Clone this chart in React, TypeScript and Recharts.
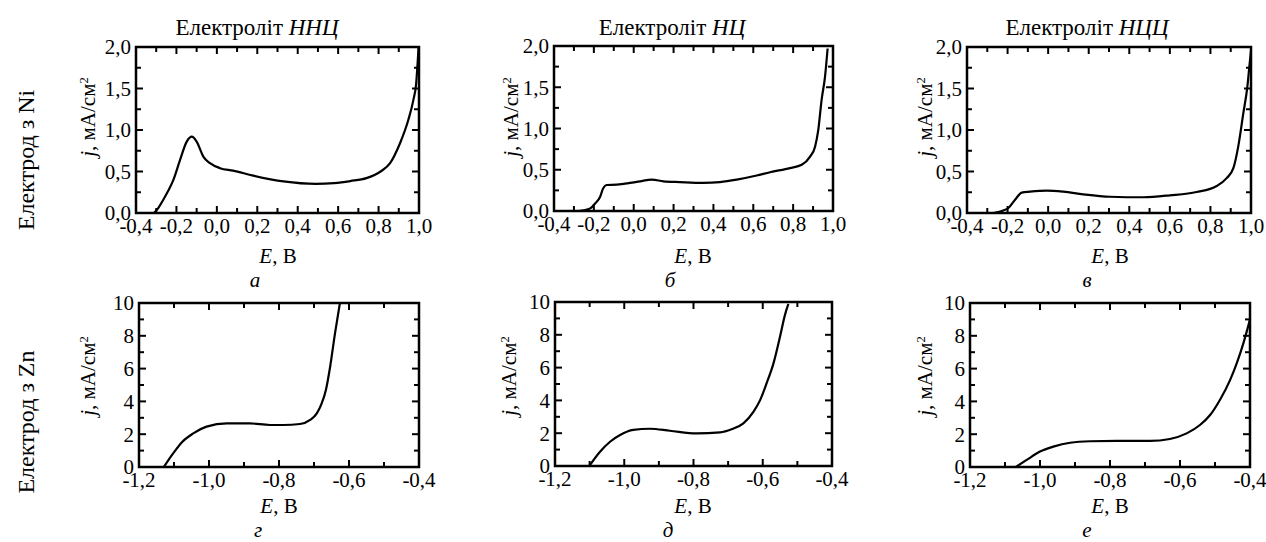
import React from 'react';
import { LineChart, Line, XAxis, YAxis, ReferenceArea } from 'recharts';

const FONT = '"Liberation Serif", "Times New Roman", serif';

// Panel а — Ni electrode, electrolyte ННЦ
const niNNC_E = [-0.311, -0.29, -0.265, -0.24, -0.215, -0.182, -0.149, -0.124, -0.1, -0.067, -0.034, 0.016, 0.08, 0.18, 0.33, 0.49, 0.58, 0.66, 0.74, 0.81, 0.857, 0.906, 0.947, 0.972, 0.986, 0.994, 0.998];
const niNNC_j = [0, 0.06, 0.16, 0.27, 0.4, 0.64, 0.86, 0.92, 0.86, 0.68, 0.6, 0.54, 0.51, 0.45, 0.38, 0.35, 0.36, 0.385, 0.42, 0.5, 0.6, 0.84, 1.12, 1.36, 1.56, 1.84, 2.0];

// Panel б — Ni electrode, electrolyte НЦ
const niNC_E = [-0.278, -0.219, -0.194, -0.169, -0.153, -0.136, -0.085, -0.019, 0.032, 0.09, 0.149, 0.232, 0.349, 0.433, 0.517, 0.617, 0.684, 0.784, 0.843, 0.885, 0.91, 0.926, 0.943, 0.96, 0.973];
const niNC_j = [0, 0.03, 0.09, 0.17, 0.275, 0.315, 0.32, 0.34, 0.36, 0.38, 0.36, 0.35, 0.34, 0.35, 0.38, 0.43, 0.47, 0.52, 0.56, 0.66, 0.78, 0.98, 1.35, 1.63, 1.97];

// Panel в — Ni electrode, electrolyte НЦЦ
const niNCC_E = [-0.27, -0.221, -0.196, -0.163, -0.13, -0.089, -0.007, 0.075, 0.173, 0.305, 0.469, 0.6, 0.732, 0.831, 0.88, 0.913, 0.937, 0.962, 0.982, 0.995, 1.0];
const niNCC_j = [0, 0.03, 0.06, 0.16, 0.245, 0.257, 0.27, 0.257, 0.225, 0.196, 0.19, 0.213, 0.253, 0.325, 0.42, 0.54, 0.8, 1.2, 1.52, 1.84, 1.95];

// Panel г — Zn electrode, electrolyte ННЦ
const znNNC_E = [-1.129, -1.102, -1.078, -1.045, -1.007, -0.949, -0.883, -0.826, -0.788, -0.74, -0.711, -0.692, -0.678, -0.666, -0.654, -0.64, -0.626];
const znNNC_j = [0, 0.84, 1.5, 2.05, 2.46, 2.66, 2.66, 2.56, 2.56, 2.62, 2.87, 3.27, 3.88, 4.7, 6.1, 8.15, 10.0];

// Panel д — Zn electrode, electrolyte НЦ
const znNC_E = [-1.101, -1.07, -1.041, -1.012, -0.974, -0.926, -0.868, -0.791, -0.723, -0.69, -0.656, -0.627, -0.608, -0.589, -0.569, -0.55, -0.536, -0.526];
const znNC_j = [0, 0.87, 1.48, 1.89, 2.2, 2.27, 2.15, 1.99, 2.05, 2.24, 2.6, 3.3, 4.0, 5.04, 6.26, 7.9, 9.2, 9.88];

// Panel е — Zn electrode, electrolyte НЦЦ
const znNCC_E = [-1.069, -1.038, -1.0, -0.962, -0.914, -0.857, -0.781, -0.686, -0.629, -0.581, -0.543, -0.514, -0.486, -0.457, -0.438, -0.419, -0.403, -0.4];
const znNCC_j = [0, 0.43, 0.94, 1.24, 1.48, 1.57, 1.59, 1.59, 1.71, 2.05, 2.56, 3.17, 4.09, 5.3, 6.32, 7.54, 8.76, 9.0];

// Ticks
const niXMajor = [-0.4, -0.2, 0, 0.2, 0.4, 0.6, 0.8, 1.0];
const niXMinor = [-0.3, -0.1, 0.1, 0.3, 0.5, 0.7, 0.9];
const niYMajor = [0, 0.5, 1.0, 1.5, 2.0];
const niYMinor = [0.25, 0.75, 1.25, 1.75];
const znXMajor = [-1.2, -1.0, -0.8, -0.6, -0.4];
const znXMinor = [-1.1, -0.9, -0.7, -0.5];
const znYMajor = [0, 2, 4, 6, 8, 10];
const znYMinor = [1, 3, 5, 7, 9];

const titles = ['Електроліт ', 'Електроліт ', 'Електроліт '];
const electrolytes = ['ННЦ', 'НЦ', 'НЦЦ'];
const rowLabels = ['Електрод з Ni', 'Електрод з Zn'];
const panelLetters = ['а', 'б', 'в', 'г', 'д', 'е'];

const fmt1 = (v: number) => v.toFixed(1).replace('.', ',');
const fmt0 = (v: number) => String(v);

const TICK_FS = 21;
const MAJ = 7;
const MIN = 5;

function XTick(props: any) {
  const { x, y, payload, h, majors, fmt } = props;
  const v = payload.value;
  const major = majors.includes(v);
  const len = major ? MAJ : MIN;
  return (
    <g>
      <line x1={x} x2={x} y1={y} y2={y - len} stroke="#000" strokeWidth={2} />
      <line x1={x} x2={x} y1={y - h} y2={y - h + len} stroke="#000" strokeWidth={2} />
      {major && (
        <text x={x} y={y + 20} textAnchor="middle" fontFamily={FONT} fontSize={TICK_FS} fill="#000">
          {fmt(v)}
        </text>
      )}
    </g>
  );
}

function YTick(props: any) {
  const { x, y, payload, w, majors, fmt } = props;
  const v = payload.value;
  const major = majors.includes(v);
  const len = major ? MAJ : MIN;
  return (
    <g>
      <line x1={x} x2={x + len} y1={y} y2={y} stroke="#000" strokeWidth={2} />
      <line x1={x + w} x2={x + w - len} y1={y} y2={y} stroke="#000" strokeWidth={2} />
      {major && (
        <text x={x - 5} y={y} dy="0.35em" textAnchor="end" fontFamily={FONT} fontSize={TICK_FS} fill="#000">
          {fmt(v)}
        </text>
      )}
    </g>
  );
}

function Panel(props: any) {
  const { L, T, R, B, E, J, xMajor, xMinor, yMajor, yMinor, fmtX, fmtY } = props;
  const w = R - L;
  const h = B - T;
  const ml = 60, mt = 15, mr = 30, mb = 35;
  const data = E.map((e: number, i: number) => ({ E: e, j: J[i] }));
  const xTicks = [...xMajor, ...xMinor].sort((a, b) => a - b);
  const yTicks = [...yMajor, ...yMinor].sort((a, b) => a - b);
  const xd = [xMajor[0], xMajor[xMajor.length - 1]];
  const yd = [yMajor[0], yMajor[yMajor.length - 1]];
  return (
    <div style={{ position: 'absolute', left: L - ml, top: T - mt }}>
      <LineChart width={w + ml + mr} height={h + mt + mb} data={data} margin={{ top: mt, right: mr, left: 0, bottom: 0 }}>
        <XAxis
          dataKey="E"
          type="number"
          domain={xd}
          ticks={xTicks}
          interval={0}
          height={mb}
          tickSize={0}
          tickMargin={0}
          axisLine={false}
          tickLine={false}
          allowDataOverflow
          tick={(p: any) => <XTick {...p} h={h} majors={xMajor} fmt={fmtX} />}
        />
        <YAxis
          type="number"
          domain={yd}
          ticks={yTicks}
          interval={0}
          width={ml}
          tickSize={0}
          tickMargin={0}
          axisLine={false}
          tickLine={false}
          allowDataOverflow
          tick={(p: any) => <YTick {...p} w={w} majors={yMajor} fmt={fmtY} />}
        />
        <ReferenceArea x1={xd[0]} x2={xd[1]} y1={yd[0]} y2={yd[1]} fill="none" fillOpacity={0} stroke="#000" strokeWidth={2.5} ifOverflow="visible" />
        <Line dataKey="j" type="monotone" stroke="#000" strokeWidth={2.2} dot={false} isAnimationActive={false} />
      </LineChart>
    </div>
  );
}

function Txt(props: any) {
  const { x, y, size = 21, rot = false, italic = false, children } = props;
  return (
    <div
      style={{
        position: 'absolute',
        left: x,
        top: y,
        transform: `translate(-50%, -50%)${rot ? ' rotate(-90deg)' : ''}`,
        fontFamily: FONT,
        fontSize: size,
        fontStyle: italic ? 'italic' : 'normal',
        whiteSpace: 'nowrap',
        lineHeight: 1,
        color: '#000',
      }}
    >
      {children}
    </div>
  );
}

const YLab = () => (
  <span>
    <i>j</i>, мА/см<sup style={{ fontSize: '0.6em', verticalAlign: '0.6em' }}>2</sup>
  </span>
);
const XLab = () => (
  <span>
    <i>E</i>, В
  </span>
);

export default function App() {
  return (
    <div style={{ position: 'absolute', left: 0, top: 0, width: 1266, height: 542, background: '#fff', overflow: 'hidden' }}>
      {/* titles */}
      <Txt x={257} y={27} size={23}>{titles[0]}<i>{electrolytes[0]}</i></Txt>
      <Txt x={672} y={27} size={23}>{titles[1]}<i>{electrolytes[1]}</i></Txt>
      <Txt x={1087} y={27} size={23}>{titles[2]}<i>{electrolytes[2]}</i></Txt>

      {/* row labels */}
      <Txt x={26} y={160} size={24} rot>{rowLabels[0]}</Txt>
      <Txt x={26} y={422} size={24} rot>{rowLabels[1]}</Txt>

      <Panel L={136} T={47} R={419} B={213} E={niNNC_E} J={niNNC_j} xMajor={niXMajor} xMinor={niXMinor} yMajor={niYMajor} yMinor={niYMinor} fmtX={fmt1} fmtY={fmt1} />
      <Panel L={554} T={46} R={833} B={211} E={niNC_E} J={niNC_j} xMajor={niXMajor} xMinor={niXMinor} yMajor={niYMajor} yMinor={niYMinor} fmtX={fmt1} fmtY={fmt1} />
      <Panel L={967} T={47} R={1251} B={213} E={niNCC_E} J={niNCC_j} xMajor={niXMajor} xMinor={niXMinor} yMajor={niYMajor} yMinor={niYMinor} fmtX={fmt1} fmtY={fmt1} />
      <Panel L={139} T={303} R={419} B={467} E={znNNC_E} J={znNNC_j} xMajor={znXMajor} xMinor={znXMinor} yMajor={znYMajor} yMinor={znYMinor} fmtX={fmt1} fmtY={fmt0} />
      <Panel L={555} T={302} R={832} B={466} E={znNC_E} J={znNC_j} xMajor={znXMajor} xMinor={znXMinor} yMajor={znYMajor} yMinor={znYMinor} fmtX={fmt1} fmtY={fmt0} />
      <Panel L={970} T={303} R={1250} B={467} E={znNCC_E} J={znNCC_j} xMajor={znXMajor} xMinor={znXMinor} yMajor={znYMajor} yMinor={znYMinor} fmtX={fmt1} fmtY={fmt0} />

      {/* y labels */}
      <Txt x={88} y={117} rot><YLab /></Txt>
      <Txt x={511} y={117} rot><YLab /></Txt>
      <Txt x={925} y={117} rot><YLab /></Txt>
      <Txt x={88} y={376} rot><YLab /></Txt>
      <Txt x={509} y={376} rot><YLab /></Txt>
      <Txt x={925} y={376} rot><YLab /></Txt>

      {/* x labels */}
      <Txt x={278} y={256}><XLab /></Txt>
      <Txt x={693} y={256}><XLab /></Txt>
      <Txt x={1110} y={256}><XLab /></Txt>
      <Txt x={279} y={506}><XLab /></Txt>
      <Txt x={693} y={506}><XLab /></Txt>
      <Txt x={1110} y={506}><XLab /></Txt>

      {/* panel letters */}
      <Txt x={255} y={280} italic>{panelLetters[0]}</Txt>
      <Txt x={670} y={280} italic>{panelLetters[1]}</Txt>
      <Txt x={1087} y={280} italic>{panelLetters[2]}</Txt>
      <Txt x={258} y={530} italic>{panelLetters[3]}</Txt>
      <Txt x={668} y={530} italic>{panelLetters[4]}</Txt>
      <Txt x={1087} y={530} italic>{panelLetters[5]}</Txt>
    </div>
  );
}
